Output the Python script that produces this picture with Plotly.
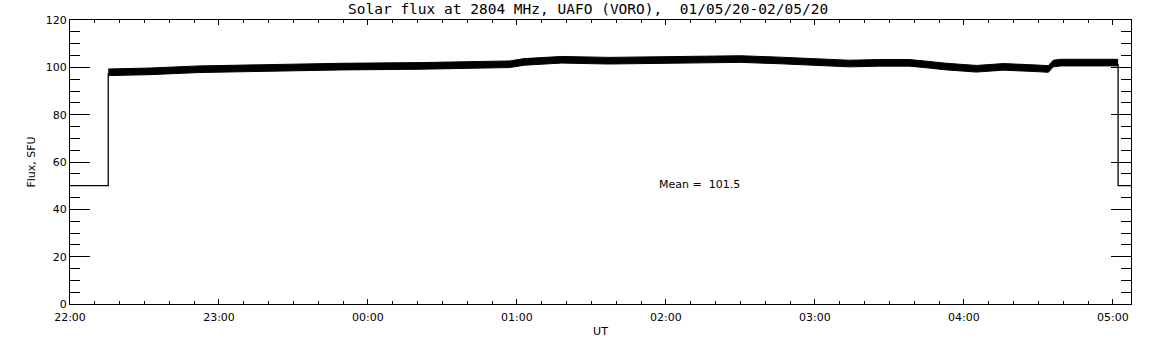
import plotly.graph_objects as go

# Times (UT) where the noisy flux band was read, 2020-05-01/02
times = ["2020-05-01 22:15:24", "2020-05-01 22:32:00", "2020-05-01 22:52:00", "2020-05-01 23:20:00",
         "2020-05-01 23:49:00", "2020-05-02 00:21:00", "2020-05-02 00:45:00", "2020-05-02 00:57:00",
         "2020-05-02 01:03:00", "2020-05-02 01:08:00", "2020-05-02 01:18:00", "2020-05-02 01:37:00",
         "2020-05-02 01:53:00", "2020-05-02 02:14:00", "2020-05-02 02:30:00", "2020-05-02 02:46:00",
         "2020-05-02 03:02:00", "2020-05-02 03:14:00", "2020-05-02 03:26:00", "2020-05-02 03:38:00",
         "2020-05-02 03:46:00", "2020-05-02 03:52:00", "2020-05-02 04:05:00", "2020-05-02 04:16:00",
         "2020-05-02 04:29:00", "2020-05-02 04:34:00", "2020-05-02 04:36:00", "2020-05-02 04:39:00",
         "2020-05-02 05:02:06"]

# Lower and upper edges of the noisy flux band (SFU)
flux_low = [96.5, 96.9, 97.8, 98.4, 98.9, 99.2, 99.6, 99.9, 100.9, 101.2, 101.8, 101.4,
            101.6, 102.0, 102.1, 101.5, 100.9, 100.2, 100.5, 100.5, 99.7, 99.0, 98.0, 98.8,
            98.2, 97.9, 100.2, 100.6, 100.6]
flux_high = [99.3, 99.7, 100.6, 101.2, 101.7, 102.0, 102.4, 102.7, 103.7, 104.0, 104.6, 104.2,
             104.4, 104.8, 104.9, 104.3, 103.7, 103.0, 103.3, 103.3, 102.5, 101.8, 100.8, 101.6,
             101.0, 100.7, 103.0, 103.4, 103.4]

# Fill level before/after the observation
edge_times_start = ["2020-05-01 22:00:00", "2020-05-01 22:15:24", "2020-05-01 22:15:24"]
edge_flux_start = [50, 50, 97.5]
edge_times_end = ["2020-05-02 05:02:06", "2020-05-02 05:02:06", "2020-05-02 05:07:18"]
edge_flux_end = [101.5, 50, 50]

mean_text = "Mean =\u00a0\u00a0101.5"
title_text = "Solar flux at 2804 MHz, UAFO (VORO),\u00a0\u00a001/05/20-02/05/20"

x_start = "2020-05-01 22:00:00"
x_end = "2020-05-02 05:07:18"

FONT = "DejaVu Sans"
W, H = 1152, 345
ML, MR, MT, MB = 70, 21, 20, 41
PW, PH = W - ML - MR, H - MT - MB

fig = go.Figure()
fig.add_trace(go.Scatter(x=times, y=flux_low, mode="lines",
                         line=dict(color="black", width=1), showlegend=False, hoverinfo="skip"))
fig.add_trace(go.Scatter(x=times, y=flux_high, mode="lines", fill="tonexty", fillcolor="black",
                         line=dict(color="black", width=1), showlegend=False, hoverinfo="skip"))
fig.add_trace(go.Scatter(x=edge_times_start, y=edge_flux_start, mode="lines",
                         line=dict(color="black", width=1.3), showlegend=False))
fig.add_trace(go.Scatter(x=edge_times_end, y=edge_flux_end, mode="lines",
                         line=dict(color="black", width=1.3), showlegend=False))

fig.add_annotation(x="2020-05-02 01:56:24", y=50.7, xref="x", yref="y", text=mean_text,
                   showarrow=False, xanchor="left", yanchor="middle",
                   font=dict(family=FONT, size=11, color="black"))

fig.add_annotation(x=(588 - ML) / PW, y=1 + 10.5 / PH, xref="paper", yref="paper",
                   text=title_text, showarrow=False, xanchor="center", yanchor="middle",
                   font=dict(family="DejaVu Sans Mono", size=14.5, color="black"))

fig.update_layout(
    width=W, height=H,
    margin=dict(l=ML, r=MR, t=MT, b=MB, pad=0),
    paper_bgcolor="white", plot_bgcolor="white",
    font=dict(family=FONT, size=11, color="black"),
    showlegend=False,
)

fig.update_xaxes(
    type="date", range=[x_start, x_end], automargin=False,
    tickformat="%H:%M", tick0=x_start, dtick=3600000,
    ticks="inside", ticklen=5, tickwidth=1, tickcolor="black", ticklabelstandoff=3,
    minor=dict(dtick=600000, tick0=x_start, ticks="inside", ticklen=3, tickcolor="black", showgrid=False),
    showline=True, linecolor="black", linewidth=1, mirror="ticks",
    showgrid=False, zeroline=False,
    tickfont=dict(family=FONT, size=11, color="black"),
    title=dict(text="UT", font=dict(family=FONT, size=11, color="black"), standoff=4),
)
fig.update_yaxes(
    range=[0, 120], tick0=0, dtick=20, automargin=False,
    ticks="inside", ticklen=20, tickwidth=1, tickcolor="black",
    minor=dict(dtick=5, tick0=0, ticks="inside", ticklen=10, tickcolor="black", showgrid=False),
    showline=True, linecolor="black", linewidth=1, mirror="ticks",
    showgrid=False, zeroline=False,
    tickfont=dict(family=FONT, size=11, color="black"),
    title=dict(text="Flux, SFU", font=dict(family=FONT, size=11, color="black"), standoff=7),
)

fig.write_html("out.html", config={"displayModeBar": False},
               post_script="document.body.style.margin='0';")
